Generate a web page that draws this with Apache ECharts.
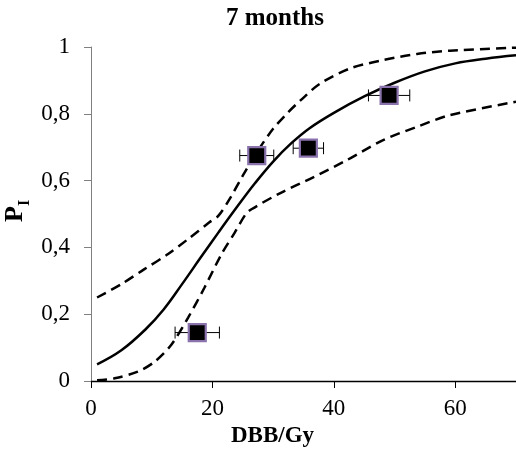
<!DOCTYPE html>
<html>
<head>
<meta charset="utf-8">
<script src="https://cdn.jsdelivr.net/npm/echarts@6/dist/echarts.min.js"></script>
<style>
  html, body { margin: 0; padding: 0; background: #fff; }
  #chart { width: 516px; height: 454px; }
</style>
</head>
<body>
<div id="chart"></div>
<script>
// Observed probability of injury vs dose, with dose uncertainty
const pointDose = [17.5, 27.3, 35.8, 49.1];
const pointProb = [0.145, 0.675, 0.697, 0.855];
const doseErr   = [3.65, 2.8, 2.5, 3.4];

// Fitted dose-response curve [dose, probability]
const fitCurve = [
  [1, 0.05], [5, 0.092], [9, 0.155], [12, 0.215], [15, 0.29],
  [18, 0.368], [21, 0.445], [24, 0.52], [27, 0.592], [30, 0.657],
  [33, 0.712], [36, 0.757], [40, 0.803], [45, 0.852], [50, 0.893],
  [55, 0.927], [60, 0.951], [65, 0.965], [70, 0.975]
];

// Upper confidence band
const upperBand = [
  [1, 0.25], [5, 0.29], [8.8, 0.335], [12.7, 0.38], [16, 0.425],
  [19.5, 0.475], [21, 0.495], [23, 0.55], [25, 0.615], [27.5, 0.69],
  [30, 0.755], [32.5, 0.805], [34.5, 0.84], [37.7, 0.89], [42.7, 0.936],
  [48.2, 0.961], [53.7, 0.979], [59.1, 0.989], [70, 0.998]
];

// Lower confidence band
const lowerBand = [
  [1, 0.002], [3.9, 0.008], [7.7, 0.028], [10.5, 0.058], [13.2, 0.108],
  [16, 0.19], [18.7, 0.28], [21.5, 0.38], [23.7, 0.445], [25.5, 0.5],
  [26.5, 0.515], [31.1, 0.562], [36.6, 0.61], [42, 0.66], [48.2, 0.722],
  [53.7, 0.761], [59.1, 0.796], [70, 0.836]
];

const xTicks = [0, 20, 40, 60];
const titleText = '7 months';
const xName = 'DBB/Gy';

const serif = "'Liberation Serif', 'Times New Roman', serif";

const points = pointDose.map((d, i) => [d, pointProb[i]]);
const errRows = pointDose.map((d, i) => [d, pointProb[i], d - doseErr[i], d + doseErr[i]]);

const chart = echarts.init(document.getElementById('chart'), null, { renderer: 'canvas' });

chart.setOption({
  backgroundColor: '#fff',
  animation: false,
  title: {
    text: titleText,
    left: 275,
    top: 6,
    textAlign: 'center',
    padding: 0,
    textStyle: { fontFamily: serif, fontSize: 25, fontWeight: 'bold', color: '#000' }
  },
  grid: { left: 91, top: 47, right: 0, bottom: 73, containLabel: false },
  xAxis: {
    type: 'value',
    min: 0, max: 70, interval: 20,
    name: xName,
    nameLocation: 'middle',
    nameGap: 42,
    nameTextStyle: {
      fontFamily: serif, fontSize: 23, fontWeight: 'bold', color: '#000',
      padding: [0, 62, 0, 0]
    },
    axisLine: { show: true, onZero: false, lineStyle: { color: '#000', width: 1.3 } },
    axisTick: { show: true, inside: false, length: 7, customValues: xTicks, lineStyle: { color: '#000', width: 1 } },
    axisLabel: {
      customValues: xTicks,
      margin: 16,
      fontFamily: serif, fontSize: 23, color: '#000'
    },
    splitLine: { show: false }
  },
  yAxis: {
    type: 'value',
    min: 0, max: 1, interval: 0.2,
    axisLine: { show: true, onZero: false, lineStyle: { color: '#808080', width: 1 } },
    axisTick: { show: true, inside: false, length: 7, lineStyle: { color: '#808080', width: 1 } },
    axisLabel: {
      margin: 21,
      fontFamily: serif, fontSize: 23, color: '#000',
      formatter: v => String(+v.toFixed(1)).replace('.', ',')
    },
    splitLine: { show: false }
  },
  graphic: [{
    type: 'group',
    x: 28, y: 222,
    rotation: Math.PI / 2,
    children: [
      { type: 'text', x: 0, y: 0,
        style: { text: 'P', font: 'bold 26px ' + serif, fill: '#000', align: 'left', verticalAlign: 'bottom' } },
      { type: 'text', x: 16, y: 5,
        style: { text: 'I', font: 'bold 16px ' + serif, fill: '#000', align: 'left', verticalAlign: 'bottom' } }
    ]
  }],
  series: [
    {
      type: 'line', data: upperBand, smooth: 0.3, showSymbol: false, z: 2,
      lineStyle: { color: '#000', width: 2.5, type: [10, 6] }
    },
    {
      type: 'line', data: lowerBand, smooth: 0.3, showSymbol: false, z: 2,
      lineStyle: { color: '#000', width: 2.5, type: [10, 6] }
    },
    {
      type: 'line', data: fitCurve, smooth: 0.4, showSymbol: false, z: 3,
      lineStyle: { color: '#000', width: 2.5 }
    },
    {
      type: 'custom', z: 4,
      data: errRows,
      renderItem: (params, api) => {
        const y = api.value(1);
        const lo = api.coord([api.value(2), y]);
        const hi = api.coord([api.value(3), y]);
        const cap = 6;
        const style = { stroke: '#000', lineWidth: 1 };
        return {
          type: 'group',
          children: [
            { type: 'line', shape: { x1: lo[0], y1: lo[1], x2: hi[0], y2: hi[1] }, style },
            { type: 'line', shape: { x1: lo[0], y1: lo[1] - cap, x2: lo[0], y2: lo[1] + cap }, style },
            { type: 'line', shape: { x1: hi[0], y1: hi[1] - cap, x2: hi[0], y2: hi[1] + cap }, style }
          ]
        };
      }
    },
    {
      type: 'scatter', data: points, z: 5,
      symbol: 'rect', symbolSize: 17,
      itemStyle: { color: '#000', opacity: 1, borderColor: '#8a72ad', borderWidth: 2.2 }
    }
  ]
});
</script>
</body>
</html>
